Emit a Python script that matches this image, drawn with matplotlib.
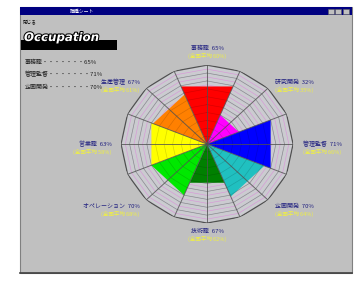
import numpy as np
import matplotlib.pyplot as plt
import matplotlib.patheffects as pe
from matplotlib.patches import Rectangle

plt.rcParams['font.family'] = ['Noto Sans CJK JP', 'DejaVu Sans']

# --- data (clockwise from the top) ---
CATEGORIES = ["事務職", "研究開発", "管理監督", "企画開発",
              "技術職", "オペレーション", "営業職", "生産管理"]
VALUES = [79, 40, 80, 72, 53, 70, 70, 68]
PCT_LABELS = ["65%", "32%", "71%", "70%", "67%", "70%", "63%", "67%"]
SUB_LABELS = ["(全国平均 60%)", "(全国平均 35%)", "(全国平均 66%)", "(全国平均 64%)",
              "(全国平均 62%)", "(全国平均 68%)", "(全国平均 58%)", "(全国平均 61%)"]
COLORS = ["#ff0000", "#ff00ff", "#0000ff", "#20c0c0",
          "#008000", "#00e800", "#ffff00", "#ff8000"]

LIST_NAMES = ["事務職", "管理監督", "企画開発"]
LIST_PCTS = ["65%", "71%", "70%"]

RINGS = [10, 20, 30, 40, 50, 60, 70, 80, 90]
PINK_RINGS = [15, 25, 35, 45, 55, 65, 75, 85, 95]
R_MAX = 100
N_SPOKES = 16

# --- window chrome ---
fig = plt.figure(figsize=(3.57, 2.82), dpi=100, facecolor="white")
bg = fig.add_axes([0, 0, 1, 1])
bg.set_xlim(0, 357)
bg.set_ylim(282, 0)
bg.axis("off")

bg.add_patch(Rectangle((20, 7), 332, 266, fc="#c0c0c0", ec="#808080", lw=0.8))
bg.add_patch(Rectangle((20, 7), 332, 8, fc="#000080"))
bg.text(82, 11, "職種シート", color="white", fontsize=3.5, ha="center", va="center")
for bx in [328, 335, 343]:
    bg.add_patch(Rectangle((bx, 8.5), 6, 5, fc="#c0c0c0", ec="#606060", lw=0.4))
bg.plot([20, 352], [272.5, 272.5], color="#404040", lw=1.2)
bg.text(23, 21.5, "閉じる", color="black", fontsize=3.3, va="center")

# title block
bg.add_patch(Rectangle((21, 40), 96, 10, fc="black"))
bg.text(24, 37.5, "Occupation", color="white", fontsize=8.5, fontweight="bold",
        fontstyle="italic", family="DejaVu Sans", va="center",
        path_effects=[pe.withStroke(linewidth=1.5, foreground="black")])

for k, (name, pct) in enumerate(zip(LIST_NAMES, LIST_PCTS)):
    bg.text(25, 62 + k * 12.5, f"{name}・・・・・・・{pct}", color="#202020",
            fontsize=4.3, va="center")

# --- radar / polar chart ---
ax = fig.add_axes([0.339, 0.209, 0.482, 0.560], projection="polar")
ax.set_aspect("auto")
ax.set_theta_zero_location("N")
ax.set_theta_direction(-1)
ax.set_ylim(0, R_MAX)
ax.axis("off")

poly_t = np.deg2rad(np.arange(N_SPOKES + 1) * 360 / N_SPOKES)

# chart background
ax.fill(poly_t, [R_MAX] * len(poly_t), color="#cbcbd0", zorder=0)
for r in PINK_RINGS:
    ax.plot(poly_t, [r] * len(poly_t), color="#d898d8", lw=0.45, zorder=1)
for r in RINGS:
    ax.plot(poly_t, [r] * len(poly_t), color="#a0a0a8", lw=0.45, zorder=1)

# sectors
half = np.deg2rad(360 / len(VALUES) / 2)
for i, (v, c) in enumerate(zip(VALUES, COLORS)):
    th = np.deg2rad(i * 360 / len(VALUES))
    ax.fill([0, th - half, th + half], [0, v, v], color=c, lw=0, zorder=2)

# grid over the sectors
for r in RINGS:
    ax.plot(poly_t, [r] * len(poly_t), color="black", alpha=0.15, lw=0.5, zorder=3)
for t in poly_t[:-1]:
    ax.plot([t, t], [0, R_MAX], color="#505050", lw=0.7, alpha=0.8, zorder=4)
ax.plot(poly_t, [R_MAX] * len(poly_t), color="#505050", lw=0.9, zorder=4)

# labels
for i, (cat, pct, sub) in enumerate(zip(CATEGORIES, PCT_LABELS, SUB_LABELS)):
    th = np.deg2rad(i * 360 / len(VALUES))
    s = np.sin(th)
    ha = "left" if s > 0.1 else ("right" if s < -0.1 else "center")
    r = 121 if i == 0 else 111
    ax.annotate(f"{cat}  {pct}", xy=(th, r), ha=ha, va="center",
                color="#202080", fontsize=4.3, annotation_clip=False)
    ax.annotate(sub, xy=(th, r), xytext=(0, -5.5), textcoords="offset points",
                ha=ha, va="center", color="#f0f040", fontsize=4.0,
                annotation_clip=False)

fig.savefig("out.png", dpi=100, facecolor="white")
